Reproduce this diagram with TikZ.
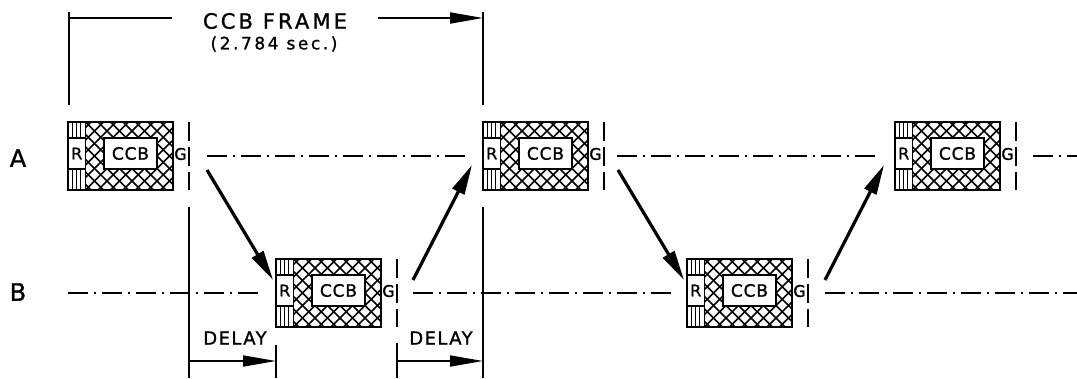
\documentclass[tikz,border=0pt]{standalone}
\usepackage{fontspec}
\setmainfont{DejaVu Sans}[FakeBold=1.2]
\usetikzlibrary{arrows.meta}
\tikzset{
  dline/.style={line width=1.9pt, dash pattern=on 20pt off 6pt on 2pt off 6pt},
  vdash/.style={line width=1.9pt, dash pattern=on 19pt off 6pt},
  dim/.style={line width=1.8pt},
  dimarrow/.style={line width=1.8pt, -{Triangle[length=33pt,width=11pt]}},
  flow/.style={line width=3.2pt, -{Triangle[length=30pt,width=13pt]}},
  hatch/.style={line width=1.7pt},
  stripe/.style={line width=1.4pt},
  rbox/.style={draw, fill=white, line width=1.4pt, minimum width=17.5pt, minimum height=31pt, inner sep=0pt, font=\fontsize{16}{16}\selectfont},
  cbox/.style={draw, fill=white, line width=1.6pt, minimum width=53pt, minimum height=31pt, inner sep=0pt, font=\fontsize{17}{17}\selectfont\addfontfeature{LetterSpace=5}},
  blk/.style={draw, line width=2.4pt, minimum width=105pt, minimum height=68pt, inner sep=0pt},
  glbl/.style={inner sep=0pt, font=\fontsize{16}{16}\selectfont},
  rowlbl/.style={inner sep=0pt, font=\fontsize{24}{24}\selectfont},
  frametxt/.style={inner sep=0pt, font=\fontsize{21}{22}\selectfont\addfontfeature{LetterSpace=15}},
  subtxt/.style={inner sep=0pt, font=\fontsize{17}{18}\selectfont\addfontfeature{LetterSpace=15}},
  delaytxt/.style={inner sep=0pt, font=\fontsize{18}{19}\selectfont\addfontfeature{LetterSpace=8}},
}
\newcommand\ccbblock[3]{%
  \begin{scope}[shift={(#2,#3)}]
    \begin{scope}
      \clip (17.5,0) rectangle (105,68);
      \foreach \k in {0,...,14} {
        \draw[hatch] (-57.5+12.5*\k,0) -- ++(68,68);
        \draw[hatch] (-57.5+12.5*\k,68) -- ++(68,-68);
      }
    \end{scope}
    \foreach \s in {4.5,8.5,12.5} \draw[stripe] (\s,0) -- (\s,68);
    \draw[line width=1.8pt] (17.5,0) -- (17.5,68);
    \node[rbox] (#1R) at (8.75,31.5) {R};
    \node[cbox] (#1C) at (62.5,31.5) {CCB};
    \node[blk] (#1) at (52.5,34) {};
    \node[glbl] (#1G) at (112.5,32) {G};
    \coordinate (#1dt) at (121,0);
    \coordinate (#1db) at (121,68);
    \draw[vdash] (#1dt) -- (#1db);
  \end{scope}}
\begin{document}
\begin{tikzpicture}[x=1pt,y=-1pt]
\useasboundingbox (0,0) rectangle (1077,378);
\fill[white] (0,0) rectangle (1077,378);

% blocks
\ccbblock{A1}{68}{122}
\ccbblock{B1}{276}{259}
\ccbblock{A2}{483}{122}
\ccbblock{B2}{687}{259}
\ccbblock{A3}{895}{122}

% row labels
\node[rowlbl] (labA) at (18,158) {A};
\node[rowlbl] (labB) at (18,292) {B};

% timeline A
\coordinate (a1) at (207,156); \coordinate (a2) at (465,156);
\coordinate (a3) at (617,156); \coordinate (a4) at (878,156);
\coordinate (a5) at (1033,156); \coordinate (a6) at (1077,156);
\draw[dline] (a1) -- (a2);
\draw[dline] (a3) -- (a4);
\draw[dline] (a5) -- (a6);

% timeline B
\coordinate (b1) at (68,293); \coordinate (b2) at (262,293);
\coordinate (b3) at (413,293); \coordinate (b4) at (672,293);
\coordinate (b5) at (825,293); \coordinate (b6) at (1077,293);
\draw[dline] (b1) -- (b2);
\draw[dline] (b3) -- (b4);
\draw[dline] (b5) -- (b6);

% CCB frame dimension
\coordinate (fl) at (69,12); \coordinate (flb) at (69,105);
\coordinate (fr) at (483,12); \coordinate (frb) at (483,105);
\draw[dim] (fl) -- (flb);
\draw[dim] (fr) -- (frb);
\coordinate (fh1) at (69,18); \coordinate (fh2) at (172,18);
\coordinate (fh3) at (378,18); \coordinate (fh4) at (483,18);
\draw[dim] (fh1) -- (fh2);
\draw[dimarrow] (fh3) -- (fh4);
\node[frametxt] (frame) at (275,21) {CCB FRAME};
\node[subtxt] (period) at (274,44) {(2.784 sec.)};

% delay dimensions
\coordinate (d1t) at (189,207); \coordinate (d1b) at (189,378);
\coordinate (d2t) at (276,345); \coordinate (d2b) at (276,378);
\coordinate (d3t) at (397,343); \coordinate (d3b) at (397,378);
\coordinate (d4t) at (483,207); \coordinate (d4b) at (483,378);
\draw[dim] (d1t) -- (d1b);
\draw[dim] (d2t) -- (d2b);
\draw[dim] (d3t) -- (d3b);
\draw[dim] (d4t) -- (d4b);
\coordinate (e1) at (189,361); \coordinate (e2) at (276,361);
\coordinate (e3) at (397,361); \coordinate (e4) at (483,361);
\draw[dimarrow] (e1) -- (e2);
\draw[dimarrow] (e3) -- (e4);
\node[delaytxt] (delay1) at (235,338) {DELAY};
\node[delaytxt] (delay2) at (441,338) {DELAY};

% flow arrows
\coordinate (f1s) at (207,170); \coordinate (f1e) at (273,280);
\coordinate (f2s) at (413,280); \coordinate (f2e) at (472,165);
\coordinate (f3s) at (618,170); \coordinate (f3e) at (684,280);
\coordinate (f4s) at (825,280); \coordinate (f4e) at (884,165);
\draw[flow] (f1s) -- (f1e);
\draw[flow] (f2s) -- (f2e);
\draw[flow] (f3s) -- (f3e);
\draw[flow] (f4s) -- (f4e);
\end{tikzpicture}
\end{document}
